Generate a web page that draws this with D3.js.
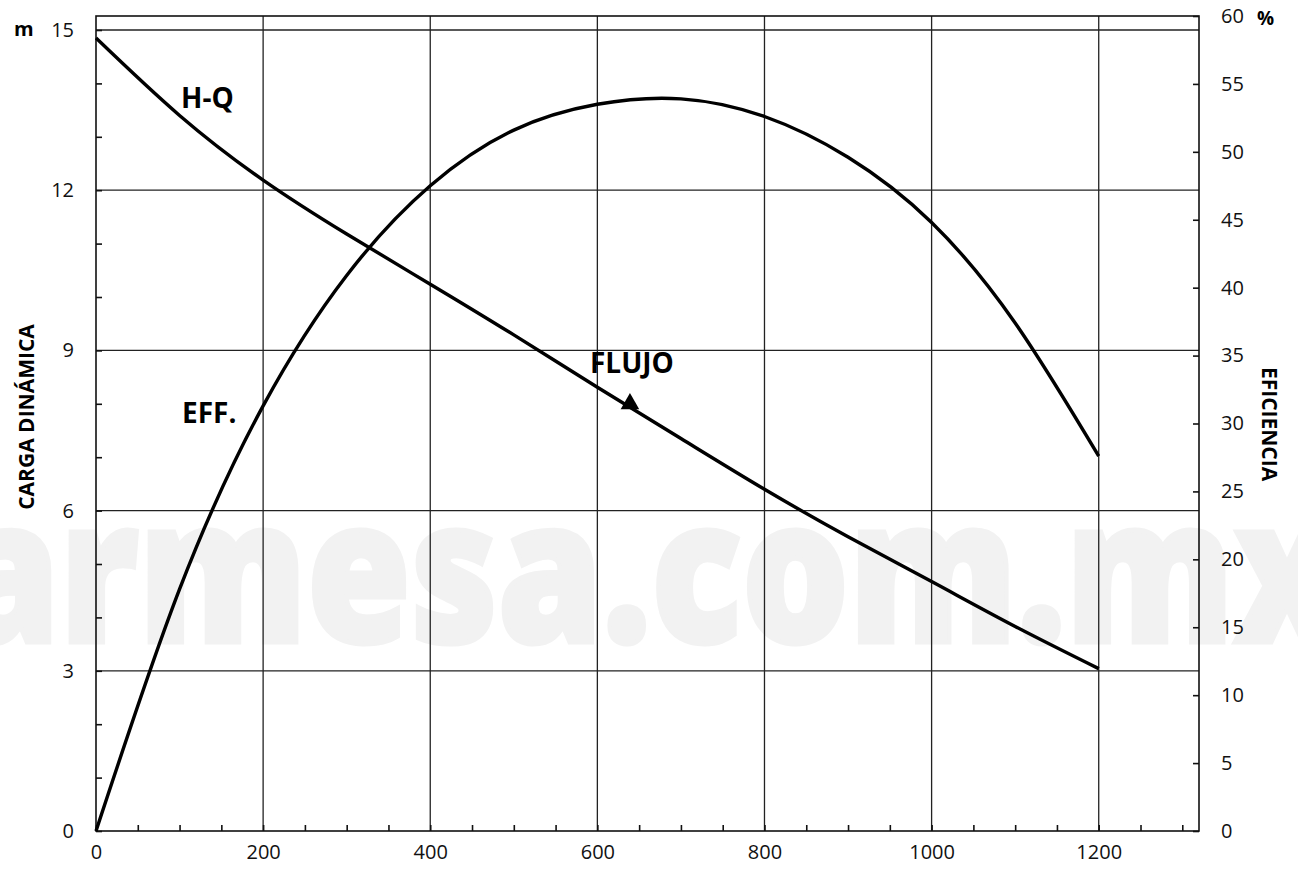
<!DOCTYPE html>
<html>
<head>
<meta charset="utf-8">
<script src="https://cdn.jsdelivr.net/npm/d3@7"></script>
<style>
  html, body { margin: 0; padding: 0; background: #ffffff; }
  svg { display: block; font-family: "Open Sans", "Noto Sans", sans-serif; }
</style>
</head>
<body>
<svg id="chart" width="1298" height="877"></svg>
<script>
// ---- data ----
const flowTicks = [0, 200, 400, 600, 800, 1000, 1200];
const headTicks = [0, 3, 6, 9, 12, 15];
const effTicks = [0, 5, 10, 15, 20, 25, 30, 35, 40, 45, 50, 55, 60];

const hqFlow = [0, 100, 200, 300, 400, 500, 600, 700, 800, 900, 1000, 1100, 1200];
const hqHead = [14.85, 13.40, 12.19, 11.18, 10.24, 9.29, 8.31, 7.35, 6.40, 5.51, 4.67, 3.83, 3.04];

const effFlow = [0, 100, 200, 300, 400, 500, 600, 700, 800, 900, 1000, 1100, 1200];
const effValue = [0, 17.8, 31.3, 40.9, 47.5, 51.6, 53.5, 53.9, 52.6, 49.6, 44.8, 37.4, 27.6];

const flujoPoint = { flow: 639, head: 7.98 };

const labels = {
  left: "CARGA DINÁMICA", right: "EFICIENCIA",
  leftUnit: "m", rightUnit: "%",
  hq: "H-Q", eff: "EFF.", flujo: "FLUJO",
  watermark: "armesa.com.mx"
};

// ---- layout ----
const svg = d3.select("#chart");
const L = 96, R = 1199, B = 831, T = 16;
const x = d3.scaleLinear().domain([0, 1320]).range([L, R]);
const yL = d3.scaleLinear().domain([0, 15]).range([B, 30]);
const yR = d3.scaleLinear().domain([0, 60]).range([B, T]);

// watermark
svg.append("text")
  .attr("x", -45).attr("y", 642)
  .attr("textLength", 1385).attr("lengthAdjust", "spacingAndGlyphs")
  .attr("font-size", 198).attr("font-weight", 800)
  .attr("fill", "#f2f2f2").attr("stroke", "#f2f2f2").attr("stroke-width", 5)
  .text(labels.watermark);

const gridColor = "#222";
// vertical grid lines
svg.append("g").selectAll("line").data(flowTicks.filter(d => d > 0)).join("line")
  .attr("x1", d => x(d)).attr("x2", d => x(d))
  .attr("y1", T).attr("y2", B)
  .attr("stroke", gridColor).attr("stroke-width", 1.3);
// horizontal grid lines
svg.append("g").selectAll("line").data(headTicks.filter(d => d > 0)).join("line")
  .attr("x1", L).attr("x2", R)
  .attr("y1", d => yL(d)).attr("y2", d => yL(d))
  .attr("stroke", gridColor).attr("stroke-width", 1.3);

// frame
svg.append("rect").attr("x", L).attr("y", T).attr("width", R - L).attr("height", B - T)
  .attr("fill", "none").attr("stroke", "#111").attr("stroke-width", 1.6);

// bottom axis (inward ticks)
const xAxis = d3.axisBottom(x).tickValues(d3.range(0, 1301, 50)).tickSize(-6).tickPadding(14)
  .tickFormat(d => flowTicks.includes(d) ? d : "");
const gx = svg.append("g").attr("transform", `translate(0,${B})`).call(xAxis);
// left axis
const yAxisL = d3.axisLeft(yL).tickValues(d3.range(0, 16, 1)).tickSize(-6).tickPadding(22)
  .tickFormat(d => headTicks.includes(d) ? d : "");
const gyl = svg.append("g").attr("transform", `translate(${L},0)`).call(yAxisL);
// right axis
const yAxisR = d3.axisRight(yR).tickValues(effTicks).tickSize(-6).tickPadding(22);
const gyr = svg.append("g").attr("transform", `translate(${R},0)`).call(yAxisR);

[gx, gyl, gyr].forEach(g => {
  g.select(".domain").remove();
  g.selectAll(".tick line").attr("stroke", "#111").attr("stroke-width", 1.6);
  g.selectAll(".tick text").attr("font-size", 20).attr("fill", "#111")
    .attr("font-family", "'Open Sans', sans-serif");
});

// curves
const line = d3.line().curve(d3.curveNatural);
svg.append("path")
  .attr("d", line(hqFlow.map((f, i) => [x(f), yL(hqHead[i])])))
  .attr("fill", "none").attr("stroke", "#000").attr("stroke-width", 3.4);
svg.append("path")
  .attr("d", line(effFlow.map((f, i) => [x(f), yR(effValue[i])])))
  .attr("fill", "none").attr("stroke", "#000").attr("stroke-width", 3.4);

// flujo marker
svg.append("path")
  .attr("d", d3.symbol().type(d3.symbolTriangle).size(150)())
  .attr("transform", `translate(${x(flujoPoint.flow)},${yL(flujoPoint.head) - 1})`)
  .attr("fill", "#000");

// annotations
const bold = (t, xx, yy, fs, anchor) => svg.append("text")
  .attr("x", xx).attr("y", yy).attr("font-size", fs).attr("font-weight", 700)
  .attr("text-anchor", anchor || "start").attr("fill", "#000").text(t);
bold(labels.hq, 181, 108, 28);
bold(labels.eff, 182, 423, 28);
bold(labels.flujo, x(flujoPoint.flow) + 2, 373, 28, "middle");
bold(labels.leftUnit, 14, 36, 20);
bold(labels.rightUnit, 1257, 25, 19);

svg.append("text")
  .attr("transform", "translate(34,417) rotate(-90)")
  .attr("text-anchor", "middle").attr("font-size", 21).attr("font-weight", 700)
  .text(labels.left);
svg.append("text")
  .attr("transform", "translate(1262,424) rotate(90)")
  .attr("text-anchor", "middle").attr("font-size", 21).attr("font-weight", 700)
  .text(labels.right);
</script>
</body>
</html>
